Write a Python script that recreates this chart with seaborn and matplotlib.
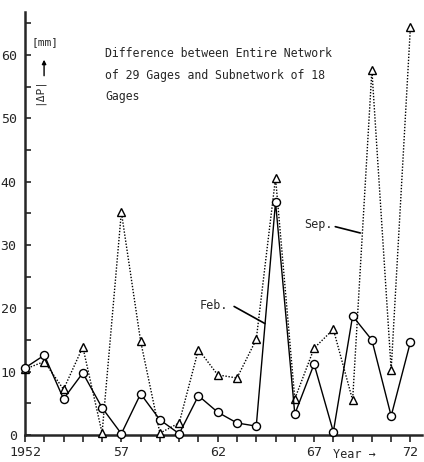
import matplotlib
matplotlib.use("Agg")
import matplotlib.pyplot as plt
import seaborn as sns
import pandas as pd

years = list(range(1952, 1973))
feb = [10.6, 12.6, 5.7, 9.8, 4.3, 0.2, 6.5, 2.4, 0.2, 6.2, 3.6, 1.9, 1.4,
       36.8, 3.3, 11.2, 0.5, 18.8, 15.0, 3.0, 14.7]
sep = [10.4, 11.6, 7.2, 13.9, 0.3, 35.2, 14.8, 0.3, 1.9, 13.5, 9.5, 9.0, 15.1,
       40.6, 5.7, 13.7, 16.7, 5.5, 57.6, 10.3, 64.5]
xtick_pos = [1952, 1957, 1962, 1967, 1972]
xtick_labels = ["1952", "57", "62", "67", "72"]
ytick_pos = [0, 10, 20, 30, 40, 50, 60]
title_text = "Difference between Entire Network\nof 29 Gages and Subnetwork of 18\nGages"

sns.set_style("ticks")
plt.rcParams["font.family"] = ["DejaVu Sans Mono", "DejaVu Sans"]

df = pd.DataFrame({"year": years, "Feb": feb, "Sep": sep})

fig = plt.figure(figsize=(4.24, 4.62), dpi=100)
ax = fig.add_axes([25 / 424, 27 / 462, 397 / 424, 423 / 462])

sns.lineplot(data=df, x="year", y="Sep", ax=ax, color="black", linestyle=(0, (1, 1.2)),
             linewidth=1.0, marker="^", markersize=5.8, markerfacecolor="white",
             markeredgecolor="black", markeredgewidth=1.0, clip_on=False, zorder=3)
sns.lineplot(data=df, x="year", y="Feb", ax=ax, color="black", linestyle="-",
             linewidth=1.0, marker="o", markersize=5.8, markerfacecolor="white",
             markeredgecolor="black", markeredgewidth=1.0, clip_on=False, zorder=4)

ax.set_xlim(1952, 1972.6)
ax.set_ylim(0, 66.8)
sns.despine(ax=ax)
for s in ("left", "bottom"):
    ax.spines[s].set_linewidth(1.8)

ax.set_xticks(years, minor=True)
ax.set_xticks(xtick_pos)
ax.set_xticklabels(xtick_labels)
ax.set_yticks(ytick_pos)
ax.set_yticks(list(range(5, 66, 10)), minor=True)
ax.tick_params(axis="x", which="both", direction="out", length=5, width=1.2,
               pad=3, labelsize=9.5)
ax.tick_params(axis="y", which="both", direction="in", length=4, width=1.2,
               pad=6, labelsize=9.5)
ax.set_xlabel("")
ax.set_ylabel("")

ax.text(1952.35, 62.1, "[mm]", fontsize=8, va="center", ha="left")
ax.text(1952.72, 54.3, "|ΔP|", fontsize=8, rotation=90, va="center", ha="center")
ax.annotate("", xy=(1952.99, 59.7), xytext=(1952.99, 56.3),
            arrowprops=dict(arrowstyle="-|>", color="black", lw=1.0, mutation_scale=6))

ax.text(1956.15, 61.2, title_text, fontsize=8.3, va="top", ha="left", linespacing=1.85)

ax.text(1962.55, 20.4, "Feb.", fontsize=8.5, va="center", ha="right")
ax.plot([1962.85, 1964.45], [20.3, 17.6], color="black", lw=1.2)
ax.text(1967.95, 33.3, "Sep.", fontsize=8.5, va="center", ha="right")
ax.plot([1968.1, 1969.4], [32.9, 31.9], color="black", lw=1.2)

fig.text(333 / 424, 7 / 462, "Year →", fontsize=8.5, va="center", ha="left")

fig.savefig("out.png", dpi=100)
